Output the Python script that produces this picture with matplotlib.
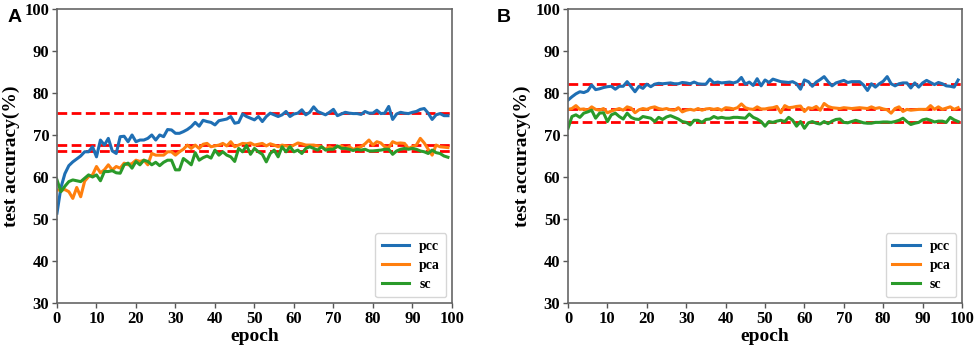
import numpy as np
import matplotlib
matplotlib.use("Agg")
import matplotlib.pyplot as plt

epochs = np.arange(100)

# panel A
a_pcc = [51.4, 57.5, 60.8, 62.7, 63.6, 64.3, 65.0, 66.0, 66.0, 67.2,
         64.8, 68.8, 67.6, 69.2, 66.2, 65.6, 69.6, 69.7, 68.4, 70.0,
         68.4, 68.8, 68.8, 69.2, 70.0, 68.8, 70.0, 69.6, 71.3, 71.2,
         70.4, 70.4, 70.8, 71.3, 72.0, 73.0, 72.1, 73.5, 73.2, 73.0,
         72.4, 73.4, 73.6, 73.8, 74.4, 72.8, 73.0, 75.0, 74.4, 74.0,
         73.6, 74.4, 73.2, 74.4, 75.2, 74.8, 74.4, 74.8, 75.6, 74.4,
         75.0, 75.2, 76.0, 74.8, 75.4, 76.7, 75.6, 75.2, 74.8, 75.4,
         76.1, 74.6, 75.0, 75.4, 75.2, 75.1, 75.1, 74.9, 75.6, 75.2,
         75.2, 75.9, 75.1, 75.2, 76.8, 73.7, 75.0, 75.4, 75.2, 75.1,
         75.4, 75.6, 76.1, 76.3, 75.2, 73.7, 74.8, 75.1, 74.6, 74.6]
a_pca = [56.9, 56.9, 57.0, 56.5, 54.9, 57.5, 55.3, 59.0, 60.1, 60.5,
         62.5, 61.0, 61.7, 62.9, 61.7, 62.5, 62.1, 63.3, 62.9, 63.2,
         64.0, 63.7, 64.0, 62.9, 65.6, 65.2, 65.2, 65.2, 66.0, 66.0,
         65.2, 66.0, 66.6, 67.6, 66.8, 67.6, 66.8, 67.8, 68.0, 67.2,
         67.4, 67.6, 68.0, 67.4, 68.4, 67.2, 67.6, 68.0, 67.9, 68.1,
         67.6, 67.8, 68.0, 67.4, 67.9, 67.6, 67.2, 67.6, 67.4, 67.2,
         67.6, 68.1, 67.9, 67.6, 67.6, 67.6, 67.4, 67.2, 66.6, 67.2,
         66.8, 67.2, 67.4, 66.8, 67.2, 66.6, 66.9, 67.2, 67.9, 68.8,
         67.6, 68.4, 68.1, 67.2, 67.0, 68.4, 68.0, 68.1, 68.0, 66.8,
         67.2, 67.6, 69.2, 68.1, 66.6, 65.2, 67.6, 67.2, 67.1, 67.0]
a_sc = [59.3, 56.5, 57.8, 58.9, 59.3, 59.1, 58.9, 59.7, 60.5, 60.0,
        60.5, 59.1, 61.3, 61.3, 61.5, 61.0, 60.9, 62.9, 63.3, 62.1,
        63.7, 62.9, 64.0, 63.7, 62.9, 63.5, 62.7, 63.5, 64.0, 64.0,
        61.7, 61.7, 64.4, 63.7, 62.9, 65.8, 64.0, 64.6, 65.0, 64.5,
        66.4, 65.2, 66.0, 65.2, 64.8, 63.7, 66.8, 66.0, 67.5, 65.4,
        66.8, 66.0, 65.4, 63.6, 65.6, 66.4, 64.8, 67.2, 66.0, 67.2,
        66.0, 66.4, 65.6, 66.8, 67.2, 66.8, 66.4, 67.2, 66.4, 66.6,
        66.6, 67.4, 66.8, 66.8, 66.6, 66.3, 66.6, 66.4, 66.6, 66.2,
        66.2, 66.3, 66.4, 66.6, 66.6, 65.4, 66.2, 66.6, 66.8, 66.6,
        66.8, 66.6, 66.2, 66.0, 65.6, 66.4, 65.8, 65.6, 65.0, 64.7]
a_ref = [75.2, 67.5, 66.3]

# panel B
b_pcc = [78.3, 79.1, 79.8, 80.3, 80.1, 80.5, 81.9, 80.8, 81.0, 81.3,
         81.5, 81.6, 80.9, 81.6, 81.6, 82.7, 81.5, 80.3, 81.6, 81.1,
         82.1, 81.5, 82.1, 82.3, 82.2, 82.3, 82.4, 82.2, 82.2, 82.5,
         82.4, 82.2, 82.6, 82.2, 82.1, 82.1, 83.3, 82.4, 82.6, 82.4,
         82.5, 82.6, 82.4, 82.7, 83.7, 82.1, 82.6, 81.8, 83.4, 81.7,
         83.1, 82.5, 83.3, 83.0, 82.7, 82.6, 82.5, 82.7, 82.2, 80.9,
         83.1, 82.7, 81.6, 82.6, 83.2, 83.9, 82.7, 81.7, 82.4, 82.7,
         83.0, 82.5, 82.7, 82.7, 82.7, 81.9, 80.6, 82.2, 81.4, 82.2,
         82.8, 83.9, 82.2, 81.7, 82.2, 82.4, 82.4, 81.2, 82.4, 81.4,
         82.4, 83.0, 82.5, 82.0, 82.5, 82.2, 81.7, 81.6, 81.4, 83.1]
b_pca = [76.1, 76.3, 77.0, 76.1, 76.2, 75.9, 76.7, 76.1, 75.9, 76.3,
         75.3, 75.7, 76.0, 76.3, 75.9, 76.7, 76.4, 75.3, 76.0, 76.3,
         76.1, 76.5, 76.7, 76.3, 76.1, 76.3, 76.0, 75.9, 76.5, 75.5,
         75.9, 76.1, 75.9, 76.3, 75.9, 76.2, 76.3, 76.1, 76.3, 75.9,
         76.5, 76.4, 76.2, 76.5, 77.4, 76.5, 76.2, 76.1, 76.7, 76.2,
         76.2, 76.4, 76.5, 76.8, 75.3, 77.0, 76.5, 76.6, 76.8, 76.9,
         75.6, 76.5, 76.3, 76.8, 75.9, 77.5, 76.8, 76.5, 76.4, 76.3,
         76.5, 76.4, 76.3, 76.4, 76.5, 76.4, 76.3, 76.7, 76.3, 76.5,
         76.2, 76.0, 75.2, 76.3, 76.7, 75.6, 76.1, 75.9, 76.0, 76.1,
         76.1, 76.1, 77.0, 76.1, 76.7, 76.1, 76.4, 76.7, 76.1, 76.5]
b_sc = [71.6, 74.4, 74.8, 74.2, 75.2, 75.5, 75.9, 74.0, 75.2, 75.3,
        73.2, 74.8, 75.2, 74.4, 73.8, 75.2, 74.2, 73.8, 73.7, 74.4,
        74.2, 74.0, 73.2, 74.2, 73.7, 74.3, 74.6, 74.2, 73.8, 73.2,
        73.0, 72.4, 73.5, 73.5, 73.0, 73.7, 73.8, 74.4, 74.0, 74.2,
        74.0, 74.0, 74.2, 74.2, 74.1, 74.0, 75.0, 74.2, 73.8, 73.2,
        72.1, 73.2, 73.0, 73.3, 73.5, 73.2, 74.2, 73.5, 72.1, 73.2,
        71.6, 72.9, 73.2, 72.8, 72.6, 73.2, 72.7, 73.3, 73.7, 73.8,
        73.0, 72.9, 73.2, 73.5, 73.2, 72.9, 72.8, 72.8, 73.0, 73.0,
        73.1, 73.1, 73.0, 73.2, 73.5, 74.0, 73.2, 72.5, 72.8, 73.0,
        73.6, 73.8, 73.5, 73.1, 73.3, 73.3, 73.0, 74.2, 73.6, 73.2]
b_ref = [82.1, 76.3, 73.2]

names = ["pcc", "pca", "sc"]
colors = ["#1f6fb4", "#ff7f0e", "#2a9a2a"]

serif = ["Liberation Serif", "DejaVu Serif"]

fig = plt.figure(figsize=(9.76, 3.46), dpi=100)
ax_a = fig.add_axes([0.0584, 0.1243, 0.4046, 0.8497])
ax_b = fig.add_axes([0.582, 0.1243, 0.4037, 0.8497])


def draw_panel(ax, series, refs, letter, lx):
    # reference lines (mean level) under the curves
    for r in refs:
        ax.axhline(r, color="red", linestyle=(0, (3.5, 1.6)), lw=2, zorder=1)
    for s, name, c in zip(series, names, colors):
        ax.plot(epochs, s, color=c, lw=2.2, label=name, zorder=2)
    ax.set_xlim(0, 100)
    ax.set_ylim(30, 100)
    ax.set_xticks(range(0, 101, 10))
    ax.set_yticks(range(30, 101, 10))
    for lab in ax.get_xticklabels() + ax.get_yticklabels():
        lab.set_family(serif)
        lab.set_weight("bold")
        lab.set_size(12)
    ax.tick_params(length=3.5, width=1, color="#555555", pad=2)
    for sp in ax.spines.values():
        sp.set_color("#666666")
        sp.set_linewidth(1.2)
    ax.set_xlabel("epoch", family=serif, weight="bold", fontsize=14, labelpad=1)
    ax.set_ylabel("test accuracy(%)", family=serif, weight="bold", fontsize=14, labelpad=3)
    leg = ax.legend(loc="lower right", prop={"family": serif, "weight": "bold", "size": 10},
                    handlelength=2.0, borderpad=0.45, labelspacing=0.45, handletextpad=0.7,
                    borderaxespad=0.4)
    leg.get_frame().set_edgecolor("#cccccc")
    fig.text(lx, 0.935, letter, fontsize=14, weight="bold",
             family=["Liberation Sans", "DejaVu Sans"])


draw_panel(ax_a, [a_pcc, a_pca, a_sc], a_ref, "A", 0.008)
draw_panel(ax_b, [b_pcc, b_pca, b_sc], b_ref, "B", 0.509)

fig.savefig("out.png", dpi=100)
